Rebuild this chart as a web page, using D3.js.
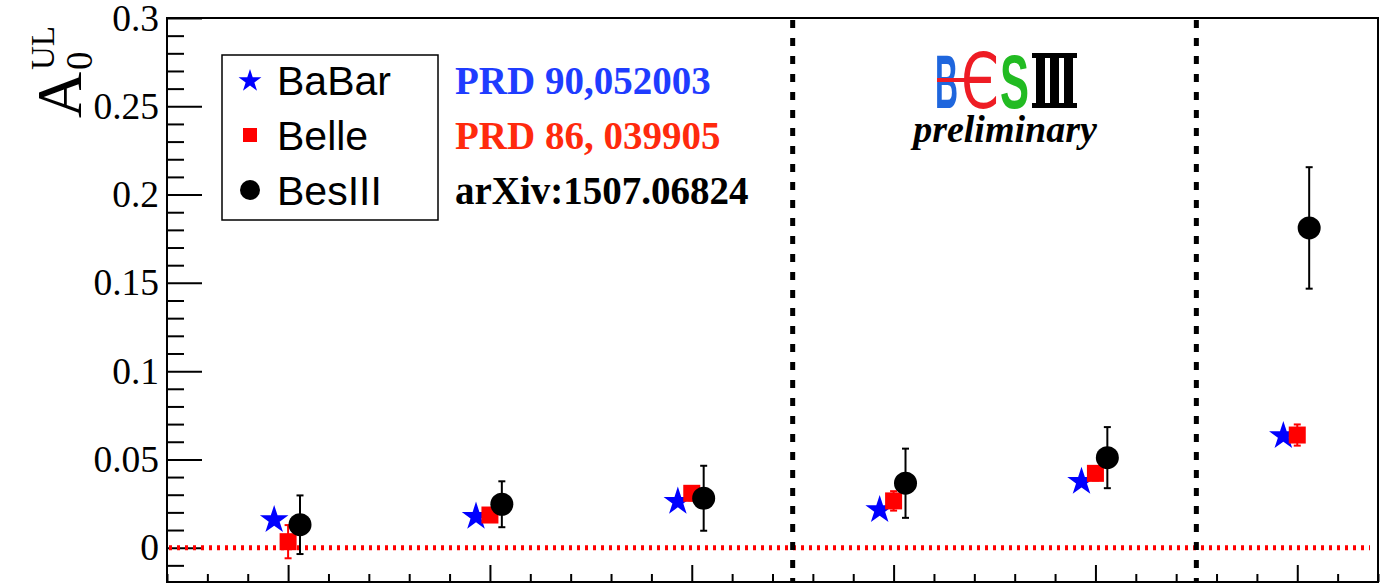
<!DOCTYPE html>
<html>
<head>
<meta charset="utf-8">
<script src="https://cdn.jsdelivr.net/npm/d3@7"></script>
<style>
  html, body { margin: 0; padding: 0; background: #ffffff; }
  svg { display: block; }
</style>
</head>
<body>
<svg id="chart" width="1386" height="583"></svg>
<script>
// Measurement slots (bin index 1..6)
const categories = [1, 2, 3, 4, 5, 6];

// BaBar upper-limit asymmetry
const babarValues = [0.0157, 0.0176, 0.0261, 0.0214, 0.0374, 0.0633];

// Belle values and errors
const belleValues = [0.0034, 0.0185, 0.0308, 0.0265, 0.0421, 0.0638];
const belleErrors = [0.0094, 0.0030, 0.0040, 0.0055, 0.0040, 0.0060];

// BESIII values and errors
const besValues = [0.0130, 0.0246, 0.0280, 0.0365, 0.0510, 0.1811];
const besErrors = [0.0166, 0.0130, 0.0184, 0.0196, 0.0173, 0.0344];

// Axis ticks
const yMajorTicks = [0, 0.05, 0.1, 0.15, 0.2, 0.25, 0.3];
const yTickLabels = ["0", "0.05", "0.1", "0.15", "0.2", "0.25", "0.3"];
const xMajorTicks = [1, 2, 3, 4, 5, 6];

// Legend / references
const legendNames = ["BaBar", "Belle", "BesIII"];
const referenceTexts = ["PRD 90,052003", "PRD 86, 039905", "arXiv:1507.06824"];
const referenceColors = ["#1f3cff", "#ff2a0d", "#000000"];

// Region separators
const separators = [3.5, 5.5];

(function draw() {
  const svg = d3.select("#chart");
  const H = 583;
  const padL = 167, padR = 1378, padT = 18, padB = 583;

  const x = d3.scaleLinear().domain([0.4, 6.4]).range([padL, padR]);
  const y = d3.scaleLinear().domain([-0.02, 0.3]).range([padB, padT]);

  const frameBottom = H - 1;

  // ---- frame ----
  svg.append("rect")
    .attr("x", padL).attr("y", padT)
    .attr("width", padR - padL).attr("height", frameBottom - padT)
    .attr("fill", "none").attr("stroke", "#000").attr("stroke-width", 2);

  // ---- y axis ----
  const yMinor = d3.range(-20, 301, 10).map(v => v / 1000)
    .filter(v => Math.round(v * 1000) % 50 !== 0);

  const yMinorAxis = d3.axisLeft(y).tickValues(yMinor).tickSize(-17).tickFormat("");
  const yMajorAxis = d3.axisLeft(y).tickValues(yMajorTicks).tickSize(-35).tickPadding(8)
    .tickFormat((d, i) => yTickLabels[i]);

  const gyMinor = svg.append("g").attr("transform", `translate(${padL},0)`).call(yMinorAxis);
  const gyMajor = svg.append("g").attr("transform", `translate(${padL},0)`).call(yMajorAxis);
  [gyMinor, gyMajor].forEach(g => {
    g.select(".domain").remove();
    g.selectAll(".tick line").attr("stroke", "#000").attr("stroke-width", 2);
  });
  gyMajor.selectAll(".tick text")
    .attr("font-family", "'Liberation Serif', 'Times New Roman', serif")
    .attr("font-size", 37.5).attr("fill", "#000");

  // ---- x axis (ticks only) ----
  const xMinor = d3.range(4, 65, 2).map(v => v / 10)
    .filter(v => Math.abs(v - Math.round(v)) > 1e-6);
  const xMinorAxis = d3.axisBottom(x).tickValues(xMinor).tickSize(-8).tickFormat("");
  const xMajorAxis = d3.axisBottom(x).tickValues(xMajorTicks).tickSize(-17).tickFormat("");
  [xMinorAxis, xMajorAxis].forEach(ax => {
    const g = svg.append("g").attr("transform", `translate(0,${frameBottom})`).call(ax);
    g.select(".domain").remove();
    g.selectAll(".tick line").attr("stroke", "#000").attr("stroke-width", 2);
  });

  // ---- y axis title: A_0^UL ----
  const title = svg.append("g").attr("transform", "translate(81,118) rotate(-90)")
    .attr("font-family", "'Liberation Serif', 'Times New Roman', serif").attr("fill", "#000");
  title.append("text").attr("x", 0).attr("y", 0).attr("font-size", 64).text("A");
  title.append("text").attr("x", 48).attr("y", 11).attr("font-size", 37).text("0");
  title.append("text").attr("x", 48).attr("y", -27).attr("font-size", 33).text("UL");

  // ---- zero reference line ----
  svg.append("line")
    .attr("x1", padL + 2).attr("x2", padR - 8)
    .attr("y1", y(0)).attr("y2", y(0))
    .attr("stroke", "#ff0000").attr("stroke-width", 5).attr("stroke-dasharray", "3,5");

  // ---- region separators ----
  svg.selectAll("line.sep").data(separators).join("line").attr("class", "sep")
    .attr("x1", d => x(d)).attr("x2", d => x(d))
    .attr("y1", padT + 2).attr("y2", frameBottom)
    .attr("stroke", "#000").attr("stroke-width", 5).attr("stroke-dasharray", "8,10");

  // ---- data ----
  const starOffset = -0.069, squareOffset = 0, circleOffset = 0.059;
  const starR = 15;
  const starPath = d3.symbol(d3.symbolStar).size(starR * starR / 0.8908)();
  const sq = 17, capW = 7;

  // BaBar stars
  svg.append("g").selectAll("path").data(categories).join("path")
    .attr("d", starPath)
    .attr("transform", (c, i) => `translate(${x(c + starOffset)},${y(babarValues[i])})`)
    .attr("fill", "#0000ff");

  // Belle error bars and squares
  const gBelle = svg.append("g");
  categories.forEach((c, i) => {
    const cx = x(c + squareOffset);
    const y1 = y(belleValues[i] + belleErrors[i]), y2 = y(belleValues[i] - belleErrors[i]);
    gBelle.append("line").attr("x1", cx).attr("x2", cx).attr("y1", y1).attr("y2", y2)
      .attr("stroke", "#ff0000").attr("stroke-width", 2);
    [y1, y2].forEach(yy => gBelle.append("line")
      .attr("x1", cx - capW / 2).attr("x2", cx + capW / 2).attr("y1", yy).attr("y2", yy)
      .attr("stroke", "#ff0000").attr("stroke-width", 2));
  });
  gBelle.selectAll("rect").data(categories).join("rect")
    .attr("x", c => x(c + squareOffset) - sq / 2)
    .attr("y", (c, i) => y(belleValues[i]) - sq / 2)
    .attr("width", sq).attr("height", sq).attr("fill", "#ff0000");

  // BESIII error bars and circles
  const gBes = svg.append("g");
  gBes.selectAll("circle").data(categories).join("circle")
    .attr("cx", c => x(c + circleOffset))
    .attr("cy", (c, i) => y(besValues[i]))
    .attr("r", 11.5).attr("fill", "#000");
  categories.forEach((c, i) => {
    const cx = x(c + circleOffset);
    const y1 = y(besValues[i] + besErrors[i]), y2 = y(besValues[i] - besErrors[i]);
    gBes.append("line").attr("x1", cx).attr("x2", cx).attr("y1", y1).attr("y2", y2)
      .attr("stroke", "#000").attr("stroke-width", 2);
    [y1, y2].forEach(yy => gBes.append("line")
      .attr("x1", cx - capW / 2).attr("x2", cx + capW / 2).attr("y1", yy).attr("y2", yy)
      .attr("stroke", "#000").attr("stroke-width", 2));
  });

  // ---- legend ----
  const legend = svg.append("g");
  legend.append("rect").attr("x", 222).attr("y", 55).attr("width", 216).attr("height", 165)
    .attr("fill", "#fff").attr("stroke", "#000").attr("stroke-width", 1.5);
  const rowY = [80, 135, 190];
  legend.append("path").attr("d", d3.symbol(d3.symbolStar).size(12 * 12 / 0.8908)())
    .attr("transform", `translate(250,${rowY[0] + 1})`).attr("fill", "#0000ff");
  legend.append("rect").attr("x", 243).attr("y", rowY[1] - 7).attr("width", 14).attr("height", 14)
    .attr("fill", "#ff0000");
  legend.append("circle").attr("cx", 250).attr("cy", rowY[2]).attr("r", 10).attr("fill", "#000");
  legend.selectAll("text.name").data(legendNames).join("text").attr("class", "name")
    .attr("x", 277).attr("y", (d, i) => rowY[i]).attr("dy", "0.36em")
    .attr("font-family", "'Liberation Sans', Arial, sans-serif").attr("font-size", 41)
    .attr("fill", "#000").text(d => d);

  // ---- references ----
  svg.selectAll("text.ref").data(referenceTexts).join("text").attr("class", "ref")
    .attr("x", 455).attr("y", (d, i) => rowY[i]).attr("dy", "0.35em")
    .attr("font-family", "'Liberation Serif', 'Times New Roman', serif")
    .attr("font-weight", "bold").attr("font-size", 39)
    .attr("fill", (d, i) => referenceColors[i]).text(d => d);

  // ---- BESIII logo ----
  const logoText = svg.append("text").attr("y", 108)
    .attr("font-family", "'Liberation Sans', Arial, sans-serif")
    .attr("font-weight", "bold").attr("font-size", 76);
  logoText.append("tspan").attr("x", 935)
    .attr("textLength", 23).attr("lengthAdjust", "spacingAndGlyphs")
    .attr("fill", "#1f66dd").text("B");
  logoText.append("tspan").attr("x", 961)
    .attr("font-family", "'DejaVu Sans', sans-serif").attr("font-weight", "normal")
    .attr("textLength", 38).attr("lengthAdjust", "spacingAndGlyphs")
    .attr("fill", "#ee1c24").text("Є");
  logoText.append("tspan").attr("x", 1000)
    .attr("textLength", 29).attr("lengthAdjust", "spacingAndGlyphs")
    .attr("fill", "#22bb22").text("S");
  const logo = svg.append("g");
  logo.append("rect").attr("x", 937).attr("y", 78).attr("width", 44).attr("height", 4)
    .attr("fill", "#ee1c24");
  // Roman numeral III
  logo.append("rect").attr("x", 1032).attr("y", 53).attr("width", 45).attr("height", 5).attr("fill", "#000");
  logo.append("rect").attr("x", 1032).attr("y", 103).attr("width", 45).attr("height", 5).attr("fill", "#000");
  [1036, 1050, 1064].forEach(px => logo.append("rect").attr("x", px).attr("y", 53)
    .attr("width", 9).attr("height", 55).attr("fill", "#000"));
  svg.append("text").attr("x", 1005).attr("y", 142).attr("text-anchor", "middle")
    .attr("font-family", "'Liberation Serif', 'Times New Roman', serif")
    .attr("font-style", "italic").attr("font-weight", "bold").attr("font-size", 38)
    .attr("fill", "#000").text("preliminary");
})();
</script>
</body>
</html>
